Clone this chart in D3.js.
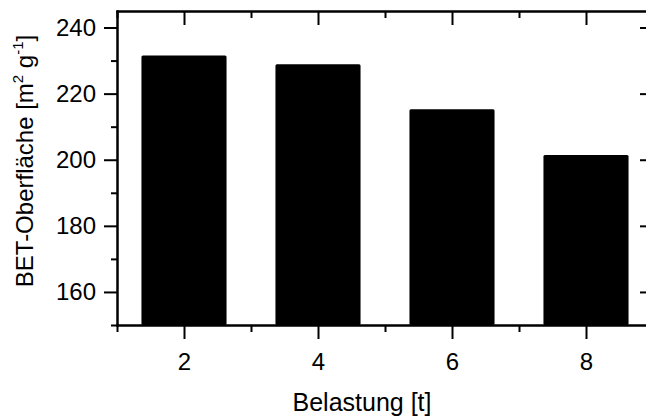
<!DOCTYPE html>
<html><head><meta charset="utf-8">
<script src="https://cdn.jsdelivr.net/npm/d3@7"></script>
<style>body{margin:0;background:#fff}svg{display:block}text{font-family:Arial,"Liberation Sans",sans-serif;fill:#000}</style>
</head><body>
<svg id="c" width="646" height="416"></svg>
<script>
const loads = [2, 4, 6, 8];
const bet = [231.5, 228.9, 215.3, 201.4];
const xMajor = [2, 4, 6, 8];
const xMinor = [1, 3, 5, 7, 9];
const yMajor = [160, 180, 200, 220, 240];
const yMinor = [150, 170, 190, 210, 230];

const svg = d3.select("#c");
const L = 117, R = 653, T = 11, B = 325;
const x = d3.scaleLinear().domain([1, 9]).range([L, R]);
const y = d3.scaleLinear().domain([150, 245]).range([B, T]);
const halfW = 0.635;

svg.append("g").selectAll("rect").data(loads).join("rect")
  .attr("x", d => x(d - halfW)).attr("width", d => x(d + halfW) - x(d - halfW))
  .attr("y", (d, i) => y(bet[i])).attr("height", (d, i) => B - y(bet[i]))
  .attr("rx", 1.5).attr("fill", "#000");

function ax(gen, tr, size, labels) {
  const g = svg.append("g").attr("transform", tr)
    .call(gen.tickSizeInner(size).tickSizeOuter(0).tickPadding(labels ? 8 : 0));
  g.select(".domain").attr("stroke-width", 2);
  g.selectAll(".tick line").attr("stroke-width", 2);
  g.selectAll("text").style("font-size", "24px").attr("font-family", "Arial, 'Liberation Sans', sans-serif");
  if (!labels) g.selectAll("text").remove();
  return g;
}
// bottom
ax(d3.axisBottom(x).tickValues(xMajor).tickFormat(d3.format("d")), `translate(0,${B})`, 14, true)
  .selectAll("text").attr("dy", "0.95em");
ax(d3.axisBottom(x).tickValues(xMinor), `translate(0,${B})`, 7, false);
// top
ax(d3.axisTop(x).tickValues(xMajor), `translate(0,${T})`, -14, false);
ax(d3.axisTop(x).tickValues(xMinor), `translate(0,${T})`, -7, false);
// left
ax(d3.axisLeft(y).tickValues(yMajor).tickFormat(d3.format("d")), `translate(${L},0)`, 13, true);
ax(d3.axisLeft(y).tickValues(yMinor), `translate(${L},0)`, 6, false);
// right
ax(d3.axisRight(y).tickValues(yMajor), `translate(${R},0)`, -13, false);
ax(d3.axisRight(y).tickValues(yMinor), `translate(${R},0)`, -6, false);
svg.selectAll(".domain").attr("stroke-linecap", "square");

svg.append("text").attr("x", 362).attr("y", 411).attr("text-anchor", "middle")
  .style("font-size", "25px").text("Belastung [t]");

const yt = svg.append("text").attr("transform", "translate(33,161) rotate(-90)")
  .attr("text-anchor", "middle").style("font-size", "24px");
yt.append("tspan").text("BET-Oberfläche [m");
yt.append("tspan").attr("dy", -10).style("font-size", "15px").text("2");
yt.append("tspan").attr("dy", 10).text(" g");
yt.append("tspan").attr("dy", -10).style("font-size", "15px").text("-1");
yt.append("tspan").attr("dy", 10).text("]");
</script>
</body></html>
